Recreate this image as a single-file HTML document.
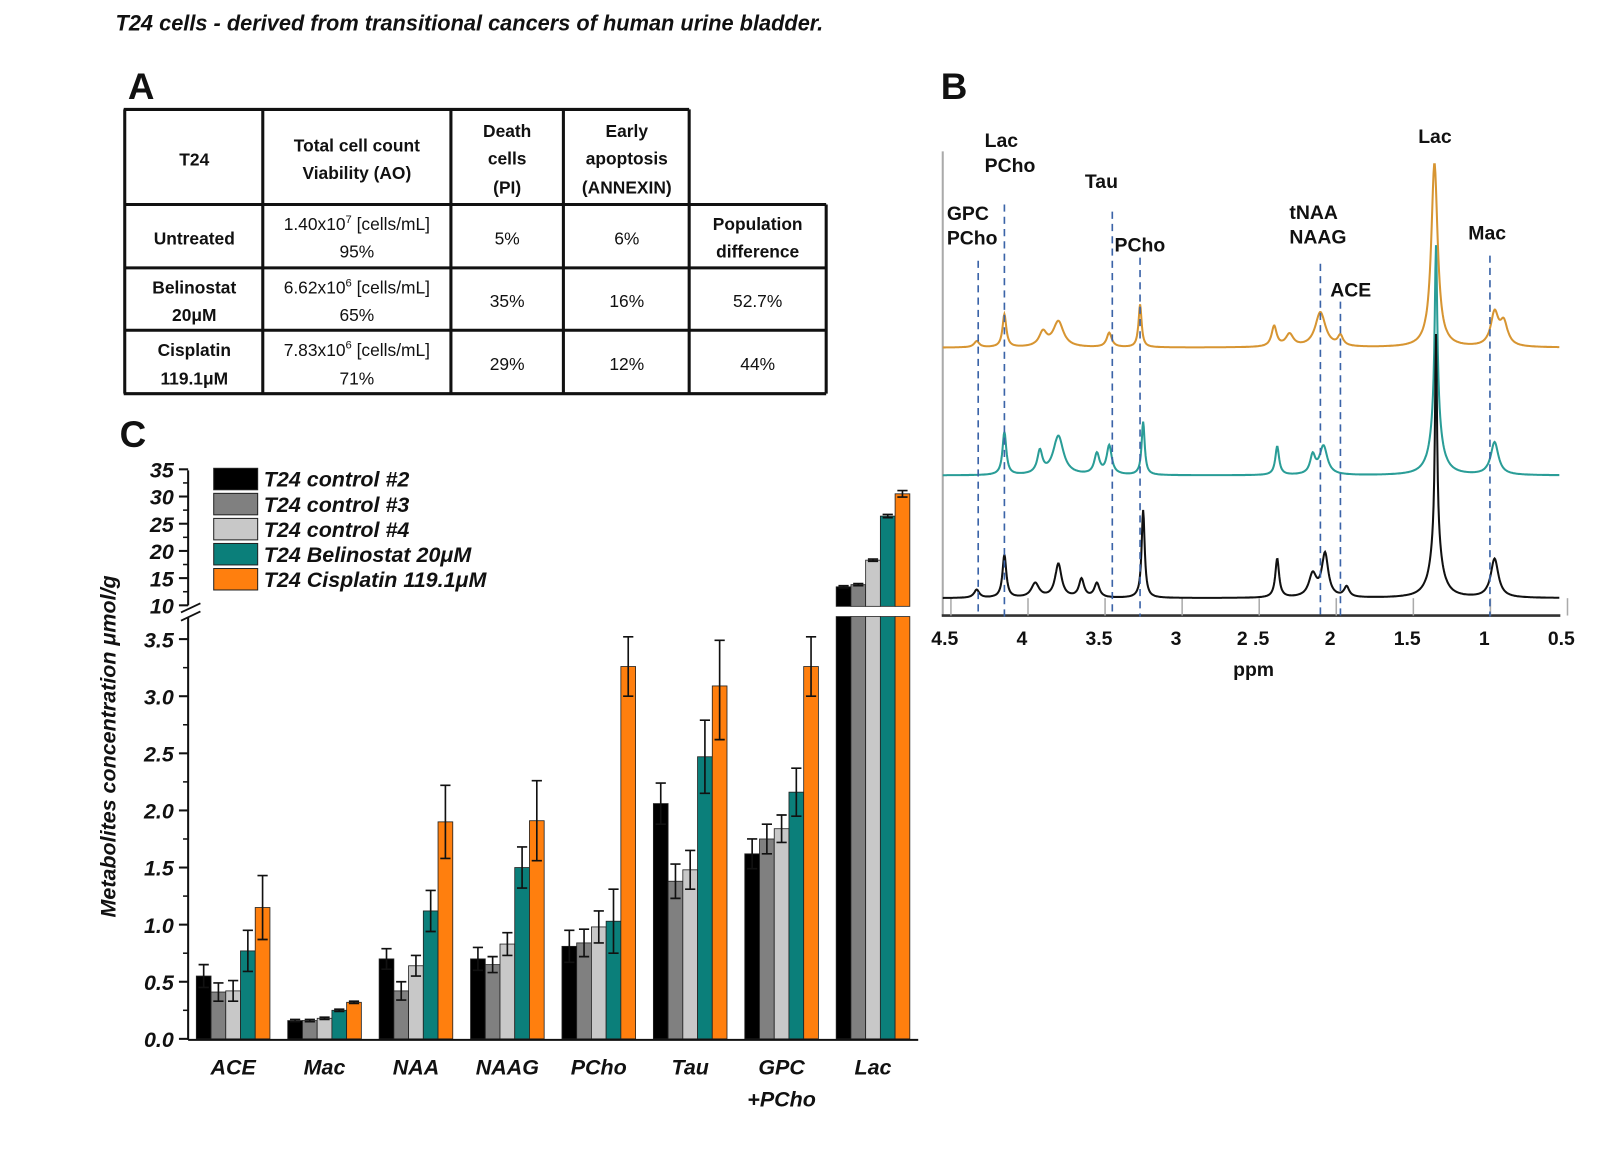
<!DOCTYPE html>
<html><head><meta charset="utf-8"><style>
html,body{margin:0;padding:0;background:#fff;}
svg{display:block;}
text{font-family:"Liberation Sans",Arial,sans-serif;}
.tb{font-family:"Liberation Sans",sans-serif;font-size:17px;fill:#111;}
.tbb{font-family:"Liberation Sans",sans-serif;font-size:17px;font-weight:bold;fill:#111;}
.bi{font-weight:bold;font-style:italic;font-size:21px;fill:#111;}
.sp{font-weight:bold;font-size:19px;fill:#111;}
</style></head><body>
<svg id="fig" width="1600" height="1164" viewBox="0 0 1600 1164" xmlns="http://www.w3.org/2000/svg">
<g transform="scale(1.0225)">
<text x="113" y="30" font-size="21.3" font-style="italic" font-weight="bold" fill="#111">T24 cells - derived from transitional cancers of human urine bladder.</text>
<text x="125" y="97" font-family="Liberation Serif,serif" font-size="36" font-weight="bold" fill="#111">A</text>
<text x="920" y="97" font-family="Liberation Serif,serif" font-size="36" font-weight="bold" fill="#111">B</text>
<text x="117" y="437" font-family="Liberation Serif,serif" font-size="36" font-weight="bold" fill="#111">C</text>

<g id="table" stroke="#111" stroke-width="3">
<line x1="121" y1="107" x2="674" y2="107"/>
<line x1="121" y1="200" x2="808" y2="200"/>
<line x1="121" y1="262" x2="808" y2="262"/>
<line x1="121" y1="323" x2="808" y2="323"/>
<line x1="121" y1="385" x2="808" y2="385"/>
<line x1="122" y1="107" x2="122" y2="385"/>
<line x1="257" y1="107" x2="257" y2="385"/>
<line x1="441" y1="107" x2="441" y2="385"/>
<line x1="551" y1="107" x2="551" y2="385"/>
<line x1="674" y1="107" x2="674" y2="385"/>
<line x1="808" y1="200" x2="808" y2="385"/>
</g>
<g text-anchor="middle">
<text class="tbb" x="190" y="162">T24</text>
<text class="tbb" x="349" y="148">Total cell count</text>
<text class="tbb" x="349" y="175">Viability (AO)</text>
<text class="tbb" x="496" y="134">Death</text>
<text class="tbb" x="496" y="161">cells</text>
<text class="tbb" x="496" y="189">(PI)</text>
<text class="tbb" x="613" y="134">Early</text>
<text class="tbb" x="613" y="161">apoptosis</text>
<text class="tbb" x="613" y="189">(ANNEXIN)</text>
<text class="tbb" x="190" y="239">Untreated</text>
<text class="tb" x="349" y="225">1.40x10<tspan font-size="11" dy="-7">7</tspan><tspan dy="7"> [cells/mL]</tspan></text>
<text class="tb" x="349" y="252">95%</text>
<text class="tb" x="496" y="239">5%</text>
<text class="tb" x="613" y="239">6%</text>
<text class="tbb" x="741" y="225">Population</text>
<text class="tbb" x="741" y="252">difference</text>
<text class="tbb" x="190" y="287">Belinostat</text>
<text class="tbb" x="190" y="314">20μM</text>
<text class="tb" x="349" y="287">6.62x10<tspan font-size="11" dy="-7">6</tspan><tspan dy="7"> [cells/mL]</tspan></text>
<text class="tb" x="349" y="314">65%</text>
<text class="tb" x="496" y="300">35%</text>
<text class="tb" x="613" y="300">16%</text>
<text class="tb" x="741" y="300">52.7%</text>
<text class="tbb" x="190" y="348">Cisplatin</text>
<text class="tbb" x="190" y="376">119.1μM</text>
<text class="tb" x="349" y="348">7.83x10<tspan font-size="11" dy="-7">6</tspan><tspan dy="7"> [cells/mL]</tspan></text>
<text class="tb" x="349" y="376">71%</text>
<text class="tb" x="496" y="362">29%</text>
<text class="tb" x="613" y="362">12%</text>
<text class="tb" x="741" y="362">44%</text>
</g>

<g id="spec"></g>
<g id="bars"></g>
</g>
</svg>
<script>
// ---------- spectrum data ----------
const specPeaksOrange = [[4.28,6,.02],[4.1,32,.015],[3.85,14,.03],[3.75,25,.04],[3.42,14,.02],[3.22,42,.012],[2.35,20,.02],[2.25,12,.03],[2.05,34,.04],[1.92,10,.02],[1.31,180,.025],[0.92,32,.03],[0.86,22,.03]];
const specPeaksTeal = [[4.1,42,.015],[3.87,22,.02],[3.75,38,.04],[3.5,20,.02],[3.42,28,.02],[3.2,52,.012],[2.33,28,.015],[2.1,18,.02],[2.03,28,.03],[1.3,170,.01],[1.3,55,.04],[0.92,32,.03]];
const specPeaksBlack = [[4.28,8,.02],[4.1,42,.015],[3.9,14,.03],[3.75,33,.025],[3.6,18,.02],[3.5,14,.02],[3.2,86,.012],[2.33,38,.015],[2.1,22,.03],[2.02,42,.025],[1.88,10,.02],[1.3,200,.008],[1.3,58,.04],[0.92,38,.03]];
const specBaselines = [340,465,585];
const specColors = ['#d79532','#2a9d97','#111111'];
const markerPpm = [4.27,4.1,3.4,3.22,2.05,1.92,0.95];
const markerLabels = [['GPC','PCho'],['Lac','PCho'],['Tau'],['PCho'],['tNAA','NAAG'],['ACE'],['Mac']];
const ppmTicks = [4.5,4,3.5,3,2.5,2,1.5,1,0.5];
const tickText = ['4.5','4','3.5','3','2 .5','2','1.5','1','0.5'];

const NS='http://www.w3.org/2000/svg';
function mk(parent,tag,attrs,txt){const e=document.createElementNS(NS,tag);for(const k in attrs)e.setAttribute(k,attrs[k]);if(txt!==undefined)e.textContent=txt;parent.appendChild(e);return e;}
const xP = p => 922 + (4.5-p)*150.75;
const spec=document.getElementById('spec');
let e=mk(spec,'line',{x1:922,y1:148,x2:922,y2:602,stroke:'#aaa','stroke-width':2});


e=mk(spec,'line',{x1:921,y1:602,x2:1526,y2:602,stroke:'#333','stroke-width':2.5});


ppmTicks.forEach((p,i)=>{
  const t=mk(spec,'line',{x1:xP(p)+8,y1:585,x2:xP(p)+8,y2:602,stroke:'#aaa','stroke-width':1.5});
  
  
  const l=mk(spec,'text',{x:xP(p)+2,y:631,'text-anchor':'middle',class:'sp','font-size':20},tickText[i]);
  
  
});
e=mk(spec,'text',{x:1226,y:661,'text-anchor':'middle',class:'sp'},'ppm');


[specPeaksOrange,specPeaksTeal,specPeaksBlack].forEach((pk,si)=>{
  let pts=[];
  for(let p=4.5;p>=0.5;p-=0.004){
    let y=specBaselines[si];
    pk.forEach(([c,h,w])=>{y-=h/(1+((p-c)/w)**2);});
    pts.push(xP(p).toFixed(1)+','+y.toFixed(1));
  }
  const pl=mk(spec,'polyline',{points:pts.join(' '),fill:'none',stroke:specColors[si],'stroke-width':2});
  
  
});
const mTop=[255,200,207,252,258,295,250];
markerPpm.forEach((p,i)=>{
  const x=xP(p);
  const d=mk(spec,'line',{x1:x,y1:mTop[i],x2:x,y2:603,stroke:'#3b64a8','stroke-width':1.6,'stroke-dasharray':'7,5'});
  
  
});
const labPos=[[926,215],[963,144],[1061,184],[1090,246],[1261,214],[1301,290],[1436,234],[1387,140]];
const labs=markerLabels.concat([['Lac']]);
labs.forEach((ls,i)=>{
  ls.forEach((s,j)=>{
    const t=mk(spec,'text',{x:labPos[i][0],y:labPos[i][1]+j*24,class:'sp'},s);
    
    
  });
});

// ---------- bar chart data ----------
const categories=['ACE','Mac','NAA','NAAG','PCho','Tau','GPC','Lac'];
const seriesNames=['T24 control  #2','T24 control  #3','T24 control  #4','T24 Belinostat 20μM','T24 Cisplatin 119.1μM'];
const seriesColors=['#000000','#808080','#c8c8c8','#0b7f7a','#ff7f0e'];
const control2=[0.55,0.16,0.70,0.70,0.81,2.06,1.62,13.4];
const control3=[0.41,0.16,0.42,0.65,0.84,1.38,1.75,13.8];
const control4=[0.42,0.18,0.64,0.83,0.98,1.48,1.84,18.3];
const belinostat=[0.77,0.25,1.12,1.50,1.03,2.47,2.16,26.4];
const cisplatin=[1.15,0.32,1.90,1.91,3.26,3.09,3.26,30.5];
const err2=[0.10,0.01,0.09,0.10,0.14,0.18,0.13,0.2];
const err3=[0.08,0.01,0.08,0.07,0.12,0.15,0.13,0.2];
const err4=[0.09,0.01,0.09,0.10,0.14,0.17,0.12,0.2];
const errB=[0.18,0.01,0.18,0.18,0.28,0.32,0.21,0.3];
const errC=[0.28,0.01,0.32,0.35,0.26,0.47,0.26,0.6];
const lowTicks=['0.0','0.5','1.0','1.5','2.0','2.5','3.0','3.5'];
const highTicks=['10','15','20','25','30','35'];

const series=[control2,control3,control4,belinostat,cisplatin];
const errs=[err2,err3,err4,errB,errC];
const yLow=v=>1016-v*111.7;
const yHigh=v=>592-(v-10)*5.32;
const yV=v=> v<=3.55? yLow(v) : yHigh(v);
const xC=i=>228+i*89.4;
const bw=14.4;
const bars=document.getElementById('bars');
categories.forEach((c,ci)=>{
  series.forEach((s,si)=>{
    const v=s[ci];
    const x=xC(ci)-2.5*bw+si*bw;
    const col=seriesColors[si];
    if(v<=3.55){
      const r=mk(bars,'rect',{x:x,y:yLow(v),width:bw,height:1016-yLow(v),fill:col,stroke:'#222','stroke-width':0.8});
      
      
    } else {
      const r1=mk(bars,'rect',{x:x,y:603,width:bw,height:413,fill:col,stroke:'#222','stroke-width':0.8});
      
      
      const r2=mk(bars,'rect',{x:x,y:yHigh(v),width:bw,height:593-yHigh(v),fill:col,stroke:'#222','stroke-width':0.8});
      
      
    }
    const er=errs[si][ci];
    const cx=x+bw/2;
    const y1=yV(v+er), y0=yV(v-er);
    const eb=mk(bars,'path',{d:`M${cx},${y1}V${y0}M${cx-5},${y1}H${cx+5}M${cx-5},${y0}H${cx+5}`,stroke:'#111','stroke-width':1.6,fill:'none'});
    
    
  });
  const lab=mk(bars,'text',{x:xC(ci),y:1051,'text-anchor':'middle',class:'bi'},c);
  
  
});
e=mk(bars,'text',{x:xC(6),y:1082,'text-anchor':'middle',class:'bi'},'+PCho');


e=mk(bars,'path',{d:'M184,1017H898M184,1017V604M184,592V460',stroke:'#111','stroke-width':2,fill:'none'});


e=mk(bars,'rect',{x:804,y:594,width:96,height:8,fill:'#fff'});


e=mk(bars,'path',{d:'M177,599L196,590M177,607L196,598',stroke:'#111','stroke-width':1.8});


lowTicks.forEach((t,i)=>{
  const v=parseFloat(t), y=yLow(v);
  const tk=mk(bars,'line',{x1:175,y1:y,x2:184,y2:y,stroke:'#111','stroke-width':2});
  
  
  if(i<lowTicks.length-1){const m=mk(bars,'line',{x1:179,y1:yLow(v+0.25),x2:184,y2:yLow(v+0.25),stroke:'#111','stroke-width':1.5});
  
  }
  const l=mk(bars,'text',{x:170,y:y+8,'text-anchor':'end',class:'bi'},t);
  
  
});
highTicks.forEach((t,i)=>{
  const v=parseFloat(t), y=yHigh(v);
  const tk=mk(bars,'line',{x1:175,y1:y,x2:184,y2:y,stroke:'#111','stroke-width':2});
  
  
  if(i<highTicks.length-1){const m=mk(bars,'line',{x1:179,y1:yHigh(v+2.5),x2:184,y2:yHigh(v+2.5),stroke:'#111','stroke-width':1.5});
  
  }
  const l=mk(bars,'text',{x:170,y:y+8,'text-anchor':'end',class:'bi'},t);
  
  
});
e=mk(bars,'text',{x:0,y:0,class:'bi','font-size':25,'text-anchor':'middle',transform:'translate(113,730) rotate(-90)'},'Metabolites concentration μmol/g');


seriesNames.forEach((n,i)=>{
  const y=458+i*24.5;
  const r=mk(bars,'rect',{x:209,y:y,width:43,height:21,fill:seriesColors[i],stroke:'#222','stroke-width':1});
  
  
  const t=mk(bars,'text',{x:258,y:y+18,class:'bi','font-size':19},n);
  
  
});
</script>
</body></html>
